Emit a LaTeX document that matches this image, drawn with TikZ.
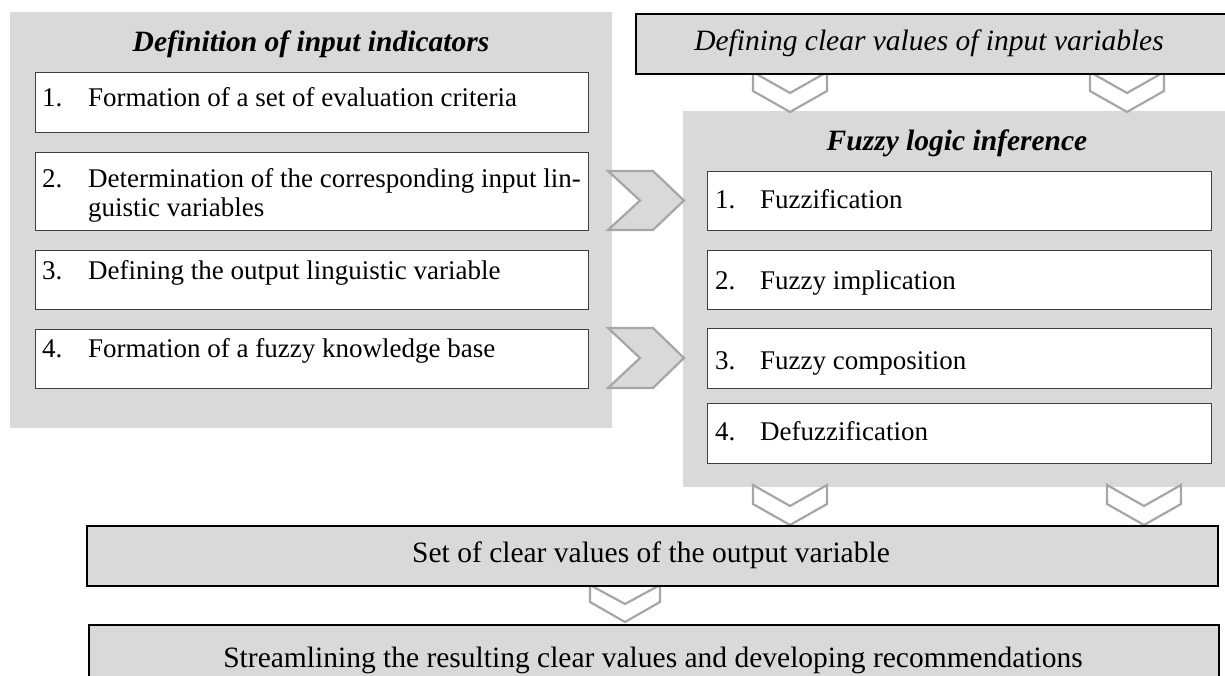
\documentclass[tikz,border=0pt]{standalone}
\usepackage{fontspec}
\setmainfont{Liberation Serif}
\usetikzlibrary{calc}
\definecolor{panelgray}{HTML}{D9D9D9}
\definecolor{chevgray}{HTML}{A6A6A6}
\definecolor{edgegray}{HTML}{3F3F3F}
\begin{document}
\begin{tikzpicture}[x=1pt,y=-1pt,
  panel/.style={fill=panelgray,draw=none,anchor=north west,inner sep=0pt},
  itembox/.style={draw=edgegray,line width=1.3pt,fill=white,anchor=north west,inner sep=0pt},
  headbox/.style={draw=black,line width=2.2pt,fill=panelgray,anchor=north west,inner sep=0pt},
  rchev/.style={draw=chevgray,line width=2.2pt,fill=panelgray,line join=miter},
  dchev/.style={draw=chevgray,line width=2.2pt,fill=white,line join=miter},
  itemtxt/.style={anchor=base west,inner sep=0pt,font=\fontsize{27}{31}\selectfont},
  titletxt/.style={inner sep=0pt,font=\fontsize{29.5}{34}\selectfont\bfseries\itshape},
  headtxt/.style={inner sep=0pt,font=\fontsize{29.5}{34}\selectfont},
]
\useasboundingbox (0,0) rectangle (1225,676);
\clip (0,0) rectangle (1225,676);

% background panels
\node[panel,minimum width=602,minimum height=416] (lpanel) at (10,12) {};
\node[panel,minimum width=560,minimum height=376] (rpanel) at (683,111) {};

% right-pointing chevrons between the panels
\coordinate (rc1) at (608,200.5);
\coordinate (rc2) at (608,358);
\foreach \c/\hh in {rc1/29.5,rc2/30}{
  \draw[rchev] ($(\c)+(0,-\hh)$) -- ++(45,0) -- ++(31,\hh) -- ++(-31,\hh) -- ++(-45,0) -- ++(32,-\hh) -- cycle;
}

% down-pointing chevrons (anchored at their upper left corner)
\coordinate (dc1) at (753,72);
\coordinate (dc2) at (1090,72);
\coordinate (dc3) at (753,485);
\coordinate (dc4) at (1107,485);
\foreach \c in {dc1,dc2,dc3,dc4}{
  \draw[dchev] (\c) -- ++(37,21) -- ++(37,-21) -- ++(0,19) -- ++(-37,21) -- ++(-37,-21) -- cycle;
}
\coordinate (dc5) at (590,585);
\draw[dchev] (dc5) -- ++(35,19) -- ++(35,-19) -- ++(0,17) -- ++(-35,20) -- ++(-35,-20) -- cycle;

% top input box
\node[headbox,minimum width=620,minimum height=60] (inbox) at (635,13) {};
\node[headtxt,font=\fontsize{29.5}{34}\selectfont\itshape] (intxt) at (929,43) {Defining clear values of input variables};

% panel titles
\node[titletxt] (ltitle) at (311,44) {Definition of input indicators};
\node[titletxt] (rtitle) at (957,143) {Fuzzy logic inference};

% left item boxes
\node[itembox,minimum width=553,minimum height=60] (l1) at (35,72) {};
\node[itembox,minimum width=553,minimum height=78] (l2) at (35,152) {};
\node[itembox,minimum width=553,minimum height=59] (l3) at (35,250) {};
\node[itembox,minimum width=553,minimum height=59] (l4) at (35,329) {};

\node[itemtxt] (l1n) at (42,107) {1.};
\node[itemtxt] (l1t) at (88,107) {Formation of a set of evaluation criteria};
\node[itemtxt] (l2n) at (42,188) {2.};
\node[itemtxt] (l2t) at (88,188) {Determination of the corresponding input lin-};
\node[itemtxt] (l2u) at (88,217) {guistic variables};
\node[itemtxt] (l3n) at (42,279) {3.};
\node[itemtxt] (l3t) at (88,279) {Defining the output linguistic variable};
\node[itemtxt] (l4n) at (42,357) {4.};
\node[itemtxt] (l4t) at (88,357) {Formation of a fuzzy knowledge base};

% right item boxes
\node[itembox,minimum width=504,minimum height=59] (r1) at (707,171) {};
\node[itembox,minimum width=504,minimum height=59] (r2) at (707,250) {};
\node[itembox,minimum width=504,minimum height=60] (r3) at (707,328) {};
\node[itembox,minimum width=504,minimum height=60] (r4) at (707,403) {};

\node[itemtxt] (r1n) at (715,209) {1.};
\node[itemtxt] (r1t) at (760,209) {Fuzzification};
\node[itemtxt] (r2n) at (715,289) {2.};
\node[itemtxt] (r2t) at (760,289) {Fuzzy implication};
\node[itemtxt] (r3n) at (715,369) {3.};
\node[itemtxt] (r3t) at (760,369) {Fuzzy composition};
\node[itemtxt] (r4n) at (715,440) {4.};
\node[itemtxt] (r4t) at (760,440) {Defuzzification};

% output boxes
\node[headbox,minimum width=1131,minimum height=60] (outbox) at (86,525) {};
\node[headtxt] (outtxt) at (651,555) {Set of clear values of the output variable};
\node[headbox,minimum width=1130,minimum height=80] (recbox) at (88,624) {};
\node[headtxt] (rectxt) at (653,660) {Streamlining the resulting clear values and developing recommendations};
\end{tikzpicture}
\end{document}
